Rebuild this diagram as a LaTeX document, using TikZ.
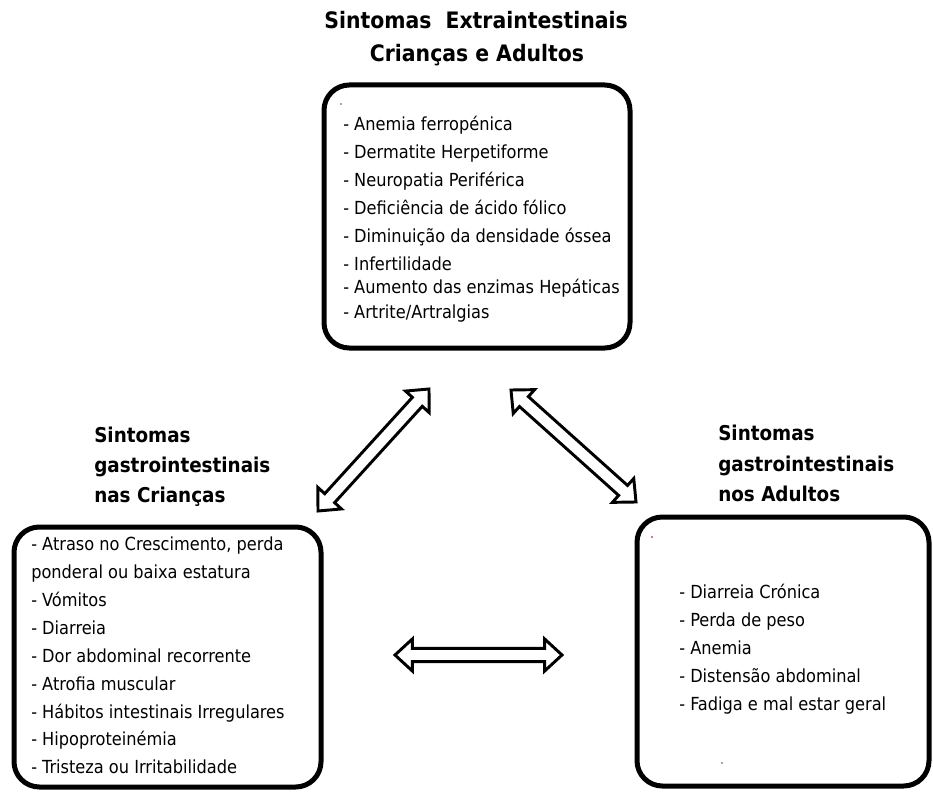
\documentclass[tikz,border=0pt]{standalone}
\usepackage{fontspec}
\setmainfont{DejaVu Sans Condensed}
\usetikzlibrary{calc}
\tikzset{
 box/.style={draw, line width=3.75pt, rounded corners=19pt, inner sep=0pt, outer sep=0pt},
 item/.style={anchor=base west, inner sep=0pt, font=\fontsize{13.5}{16}\selectfont},
 ttl/.style={anchor=base west, inner sep=0pt, font=\fontsize{15.3}{18}\selectfont\bfseries},
 bigttl/.style={anchor=base, inner sep=0pt, font=\fontsize{17}{20}\selectfont\bfseries},
 blockarr/.style={draw, line width=2.2pt, fill=white, line join=miter},
 speck/.style={circle, fill=#1, inner sep=0pt, minimum size=1.2pt}
}
\newcommand\dblarrow[2]{%
 \path ($(#1)!13pt!(#2)$) coordinate (h1) ($(#2)!13pt!(#1)$) coordinate (h2);
 \draw[blockarr] (#1) -- ($(h1)!12pt!90:(#2)$) -- ($(h1)!5pt!90:(#2)$)
   -- ($(h2)!5pt!-90:(#1)$) -- ($(h2)!12pt!-90:(#1)$) -- (#2)
   -- ($(h2)!12pt!90:(#1)$) -- ($(h2)!5pt!90:(#1)$)
   -- ($(h1)!5pt!-90:(#2)$) -- ($(h1)!12pt!-90:(#2)$) -- cycle;}
\begin{document}
\begin{tikzpicture}[x=0.75pt,y=-0.75pt]
\useasboundingbox[fill=white] (0,0) rectangle (933,792);
% boxes
\node[box, minimum width=229.5pt, minimum height=197.25pt] (topbox) at (477,216.5) {};
\node[box, minimum width=230.25pt, minimum height=195pt] (leftbox) at (167.5,657) {};
\node[box, minimum width=219pt, minimum height=201.75pt] (rightbox) at (783,651.5) {};
% titles
\node[bigttl] (t1) at (476,29) {Sintomas\ \ Extraintestinais};
\node[bigttl] (t2) at (477,62) {Crianças e Adultos};
\node[ttl] (l1) at (94,442) {Sintomas};
\node[ttl] (l2) at (94,472) {gastrointestinais};
\node[ttl] (l3) at (94,502) {nas Crianças};
\node[ttl] (r1) at (718,440) {Sintomas};
\node[ttl] (r2) at (718,471) {gastrointestinais};
\node[ttl] (r3) at (718,501) {nos Adultos};
% top list
\node[item] (a1) at (343,131) {- Anemia ferropénica};
\node[item] (a2) at (343,158.8) {- Dermatite Herpetiforme};
\node[item] (a3) at (343,186.6) {- Neuropatia Periférica};
\node[item] (a4) at (343,214.4) {- Deficiência de ácido fólico};
\node[item] (a5) at (343,242.2) {- Diminuição da densidade óssea};
\node[item] (a6) at (343,270) {- Infertilidade};
\node[item] (a7) at (343,293.5) {- Aumento das enzimas Hepáticas};
\node[item] (a8) at (343,318) {- Artrite/Artralgias};
% left list
\node[item] (b1) at (31,550) {- Atraso no Crescimento, perda};
\node[item] (b2) at (31,578) {ponderal ou baixa estatura};
\node[item] (b3) at (31,606) {- Vómitos};
\node[item] (b4) at (31,634) {- Diarreia};
\node[item] (b5) at (31,662) {- Dor abdominal recorrente};
\node[item] (b6) at (31,690) {- Atrofia muscular};
\node[item] (b7) at (31,718) {- Hábitos intestinais Irregulares};
\node[item] (b8) at (31,745.5) {- Hipoproteinémia};
\node[item] (b9) at (31,773) {- Tristeza ou Irritabilidade};
% right list
\node[item] (c1) at (679,598) {- Diarreia Crónica};
\node[item] (c2) at (679,626.5) {- Perda de peso};
\node[item] (c3) at (679,654.5) {- Anemia};
\node[item] (c4) at (679,682) {- Distensão abdominal};
\node[item] (c5) at (679,710) {- Fadiga e mal estar geral};
% specks
\node[speck=black!70] (s1) at (341,104) {};
\node[speck=red!60!black] (s2) at (652,537) {};
\node[speck=black!70] (s3) at (722,763) {};
% arrows
\coordinate (p1) at (318,511);
\coordinate (q1) at (429,389);
\coordinate (p2) at (511,390);
\coordinate (q2) at (636,502);
\coordinate (p3) at (395,655);
\coordinate (q3) at (562,655);
\dblarrow{p1}{q1}
\dblarrow{p2}{q2}
\dblarrow{p3}{q3}
\end{tikzpicture}
\end{document}
